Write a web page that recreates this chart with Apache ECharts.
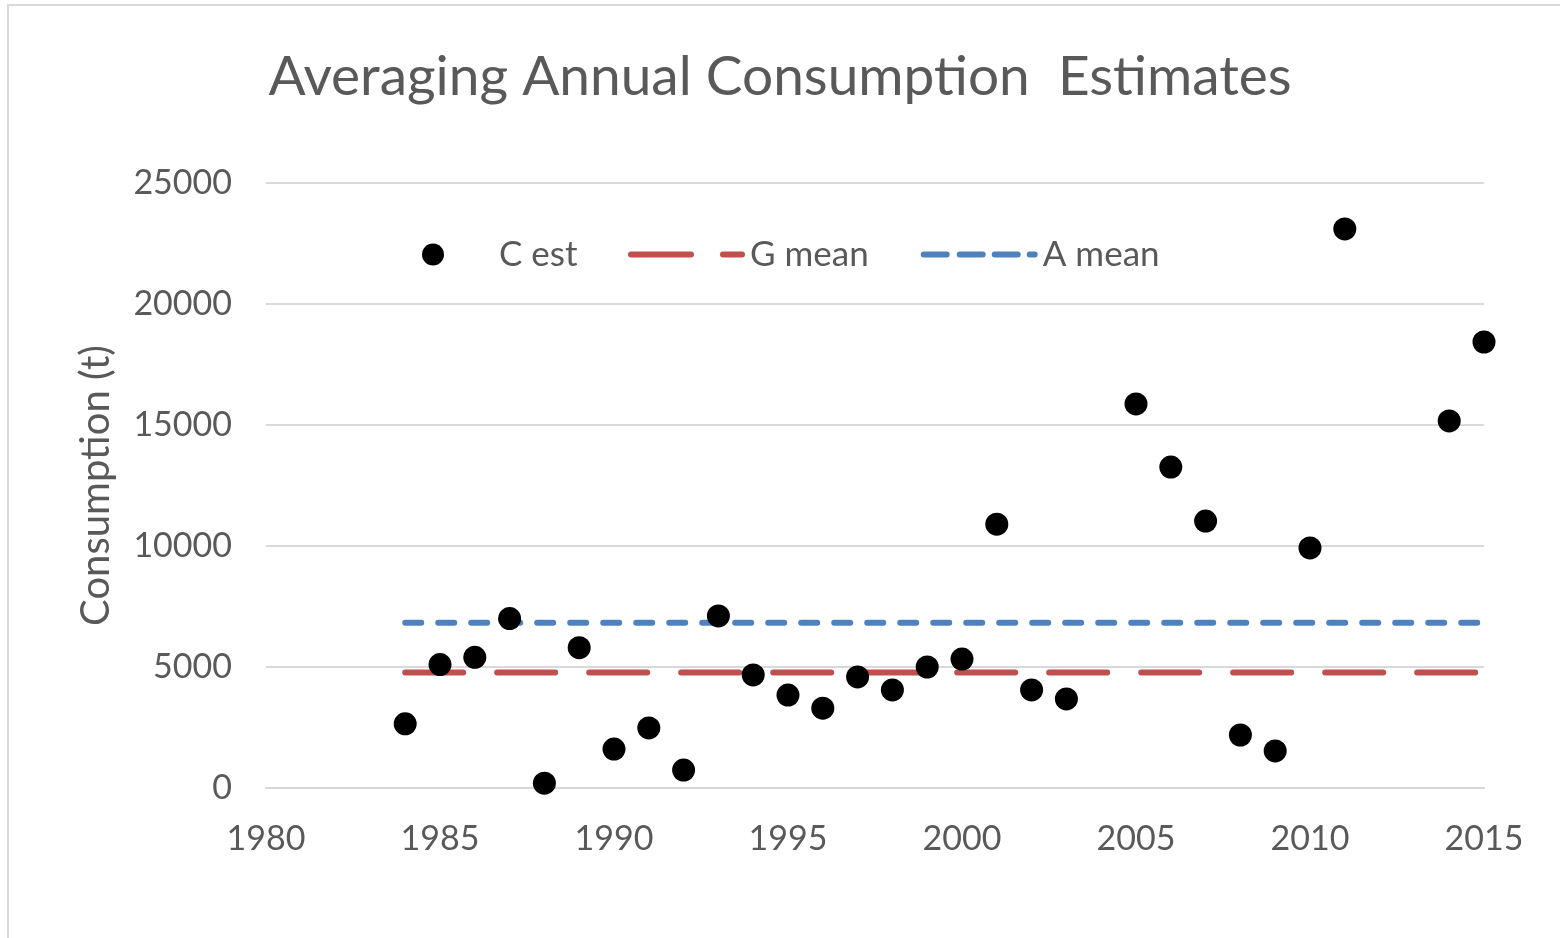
<!DOCTYPE html>
<html>
<head>
<meta charset="utf-8">
<script src="https://cdn.jsdelivr.net/npm/echarts@6/dist/echarts.min.js"></script>
<style>
  html, body { margin: 0; padding: 0; background: #fff; }
  #chart { width: 1560px; height: 938px; }
</style>
</head>
<body>
<div id="chart"></div>
<script>
// annual consumption estimates (t)
const years = [1984, 1985, 1986, 1987, 1988, 1989, 1990, 1991, 1992, 1993,
  1994, 1995, 1996, 1997, 1998, 1999, 2000, 2001, 2002, 2003,
  2005, 2006, 2007, 2008, 2009, 2010, 2011, 2014, 2015];
const cEst = [2650, 5100, 5400, 7000, 200, 5800, 1610, 2480, 740, 7110,
  4670, 3840, 3300, 4590, 4050, 5000, 5330, 10900, 4050, 3680,
  15870, 13260, 11030, 2190, 1530, 9920, 23100, 15170, 18430];

// mean lines span the whole record
const meanYears = [1984, 2015];
const gMean = [4770, 4770];
const aMean = [6830, 6830];

const xTicks = [1980, 2015, 5];   // min, max, step
const yTicks = [0, 25000, 5000];

const TEXT = '#595959';
const GRID = '#d9d9d9';
const RED = '#c0504d';
const BLUE = '#4f81bd';
const FONT = 'Lato';

// legend icons drawn like the excel dash patterns (box 117 x 6)
const capped = (x0, x1) => `M${x0 + 3},0 L${x1 - 3},0 A3,3 0 0 1 ${x1 - 3},6 L${x0 + 3},6 A3,3 0 0 1 ${x0 + 3},0 Z `;
const redIcon = 'path://' + capped(0, 66) + capped(92, 117);
const blueIcon = 'path://' + capped(0, 29) + capped(36, 65) + capped(71, 100) + capped(106, 117);

const chart = echarts.init(document.getElementById('chart'));

const pairs = (xs, ys) => xs.map((x, i) => [x, ys[i]]);
const plain = (v) => String(v);

chart.setOption({
  animation: false,
  textStyle: { fontFamily: FONT },
  graphic: [{
    type: 'rect',
    shape: { x: 8, y: 5, width: 1600, height: 1000 },
    style: { fill: 'none', stroke: GRID, lineWidth: 2 }
  }],
  title: {
    text: 'Averaging Annual Consumption  Estimates',
    left: 'center',
    top: 45,
    textStyle: { color: TEXT, fontSize: 55, fontWeight: 'normal', fontFamily: FONT }
  },
  legend: [
    {
      left: 417,
      top: 232,
      icon: 'circle',
      itemWidth: 22,
      itemHeight: 22,
      textStyle: { color: TEXT, fontSize: 35, fontFamily: FONT, padding: [0, 0, 0, 50] },
      data: ['C est']
    },
    {
      left: 623,
      top: 232,
      itemWidth: 117,
      itemHeight: 6,
      itemGap: 52,
      textStyle: { color: TEXT, fontSize: 35, fontFamily: FONT },
      data: [
        { name: 'G mean', icon: redIcon },
        { name: 'A mean', icon: blueIcon }
      ]
    }
  ],
  grid: { left: 266, right: 76, top: 183, bottom: 150 },
  xAxis: {
    type: 'value',
    min: xTicks[0], max: xTicks[1], interval: xTicks[2],
    axisLine: { lineStyle: { color: GRID, width: 2 } },
    axisTick: { show: false },
    splitLine: { show: false },
    axisLabel: { color: TEXT, fontSize: 34, margin: 34, fontFamily: FONT, formatter: plain }
  },
  yAxis: {
    type: 'value',
    min: yTicks[0], max: yTicks[1], interval: yTicks[2],
    name: 'Consumption (t)',
    nameLocation: 'middle',
    nameGap: 150,
    nameTextStyle: { color: TEXT, fontSize: 40, fontFamily: FONT },
    axisLine: { show: false },
    axisTick: { show: false },
    splitLine: { lineStyle: { color: GRID, width: 2 } },
    axisLabel: { color: TEXT, fontSize: 34, margin: 34, fontFamily: FONT, formatter: plain }
  },
  series: [
    {
      name: 'C est',
      type: 'scatter',
      symbolSize: 23,
      itemStyle: { color: '#000', opacity: 1 },
      z: 5,
      data: pairs(years, cEst)
    },
    {
      name: 'G mean',
      type: 'line',
      showSymbol: false,
      itemStyle: { color: RED },
      lineStyle: { color: RED, width: 6, type: [58, 34], cap: 'round' },
      data: pairs(meanYears, gMean)
    },
    {
      name: 'A mean',
      type: 'line',
      showSymbol: false,
      itemStyle: { color: BLUE },
      lineStyle: { color: BLUE, width: 6, type: [16, 17], cap: 'round' },
      data: pairs(meanYears, aMean)
    }
  ]
});
</script>
</body>
</html>
